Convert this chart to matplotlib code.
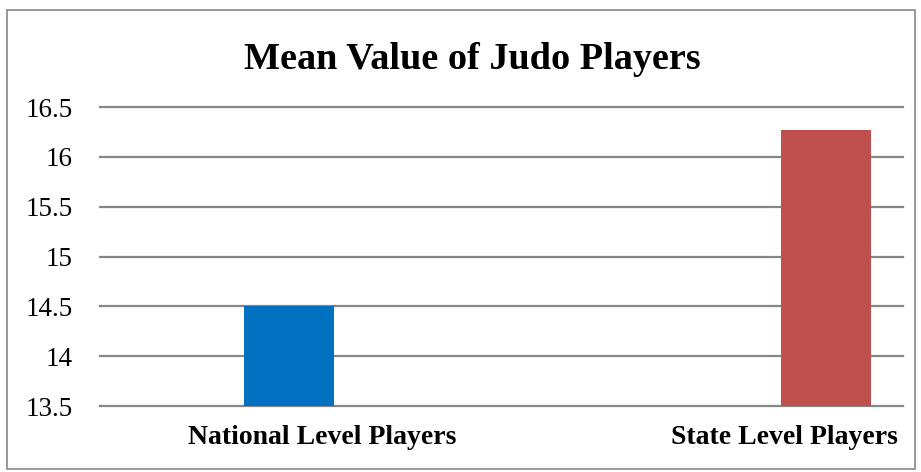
import matplotlib
matplotlib.use("Agg")
import matplotlib.pyplot as plt
from matplotlib.patches import Rectangle

# data
categories = ["National Level Players", "State Level Players"]
values = [14.5, 16.27]
colors = ["#0070C0", "#C0504D"]
yticks = [13.5, 14, 14.5, 15, 15.5, 16, 16.5]
ytick_labels = ["13.5", "14", "14.5", "15", "15.5", "16", "16.5"]

serif = ["Liberation Serif", "DejaVu Serif"]

fig = plt.figure(figsize=(9.21, 4.72), dpi=100)
ax = fig.add_axes([0.1086, 0.1398, 0.8719, 0.6335])

# bars sit off-centre in their slots, like the original
bar_pos = [0, 1]
ax.bar(bar_pos, [v - 13.5 for v in values], bottom=13.5, width=0.168,
       color=colors, zorder=3)

ax.set_xlim(-0.352, 1.144)
ax.set_ylim(13.5, 16.5)

ax.set_yticks(yticks)
ax.set_yticklabels(ytick_labels, family=serif, fontsize=19.5)
ax.yaxis.grid(True, color="#868686", linewidth=1.6, zorder=0)
for gl in ax.get_ygridlines():
    gl.set_clip_on(False)
ax.tick_params(axis="y", length=0, pad=19.5)

ax.set_xticks([0.062, 0.923])
ax.set_xticklabels(categories, family=serif, fontsize=20, fontweight="bold")
ax.tick_params(axis="x", length=0, pad=14)

for s in ax.spines.values():
    s.set_visible(False)

fig.text(0.5125, 0.874, "Mean Value of Judo Players", ha="center", va="center",
         family=serif, fontsize=27.5, fontweight="bold")

# outer chart border
fig.patches.append(Rectangle((7 / 921, 3 / 472), 908 / 921, 459 / 472,
                             transform=fig.transFigure, fill=False,
                             edgecolor="#868686", linewidth=1.2))

fig.savefig("out.png", dpi=100)
